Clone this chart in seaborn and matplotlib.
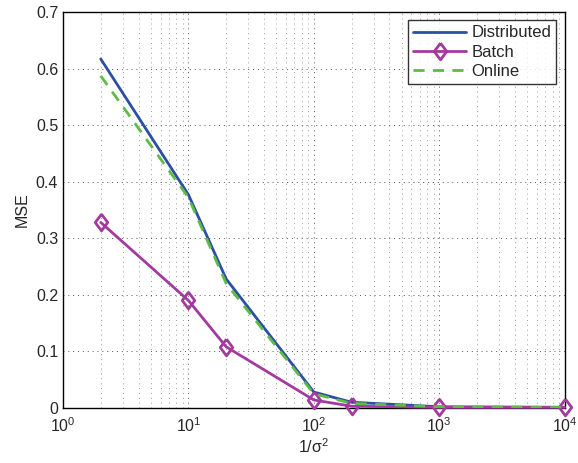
import numpy as np
import pandas as pd
import matplotlib
matplotlib.use('Agg')
import matplotlib.pyplot as plt
import matplotlib.ticker as ticker
import seaborn as sns

# 데이터
snr = [2, 10, 20, 100, 200, 1000, 10000]
mse_distributed = [0.617, 0.377, 0.228, 0.028, 0.010, 0.002, 0.001]
mse_batch = [0.328, 0.190, 0.108, 0.014, 0.003, 0.001, 0.001]
mse_online = [0.587, 0.372, 0.220, 0.025, 0.008, 0.002, 0.001]

sns.set_style('white')
plt.rcParams['font.family'] = ['Liberation Sans', 'DejaVu Sans']
plt.rcParams['mathtext.fontset'] = 'custom'
plt.rcParams['mathtext.rm'] = 'Liberation Sans'
plt.rcParams['mathtext.it'] = 'Liberation Sans'

# 마커 모양 (약간 세로로 긴 다이아몬드)
diamond = [(0, 1), (0.75, 0), (0, -1), (-0.75, 0), (0, 1)]

fig = plt.figure(figsize=(5.78, 4.63), dpi=100)
ax = fig.add_axes([0.109, 0.119, 0.868, 0.855])

sns.lineplot(x=snr, y=mse_distributed, color='#2b4fa3', lw=2, label='Distributed', ax=ax)
sns.lineplot(x=snr, y=mse_batch, color='#a33a9e', lw=2, marker=diamond, markersize=12,
             markerfacecolor='none', markeredgecolor='#a33a9e', markeredgewidth=2,
             label='Batch', ax=ax, clip_on=False, zorder=5)
sns.lineplot(x=snr, y=mse_online, color='#5dbb46', lw=2, linestyle=(0, (4, 3)),
             label='Online', ax=ax, zorder=6)

ax.set_xscale('log')
ax.set_xlim(1, 1e4)
ax.set_ylim(0, 0.7)
ax.yaxis.set_major_locator(ticker.MultipleLocator(0.1))
ax.yaxis.set_major_formatter(ticker.FuncFormatter(lambda v, p: '0' if v == 0 else f'{v:.1f}'))
ax.xaxis.set_major_locator(ticker.LogLocator(base=10, numticks=10))
ax.xaxis.set_minor_locator(ticker.LogLocator(base=10, subs=np.arange(2, 10), numticks=20))

ax.grid(True, which='major', color='#555555', linestyle=(0, (1, 4)), lw=0.7)
ax.grid(True, which='minor', axis='x', color='#999999', linestyle=(0, (1, 4)), lw=0.7)

for s in ax.spines.values():
    s.set_visible(True)
    s.set_color('black')
    s.set_linewidth(1)
ax.tick_params(which='both', direction='in', length=4, labelsize=11.5, color='black')
ax.tick_params(which='minor', length=2)
ax.tick_params(axis='x', pad=6)

ax.set_xlabel(r'1/$\sigma^2$', fontsize=11.5, labelpad=2)
ax.set_ylabel('MSE', fontsize=11.5)

leg = ax.legend(loc='upper right', fontsize=12, frameon=True, fancybox=False,
                edgecolor='black', handlelength=3.2, borderpad=0.3, labelspacing=0.25,
                handletextpad=0.3, borderaxespad=0.5)
leg.get_frame().set_linewidth(1)

fig.savefig('out.png', dpi=100)
